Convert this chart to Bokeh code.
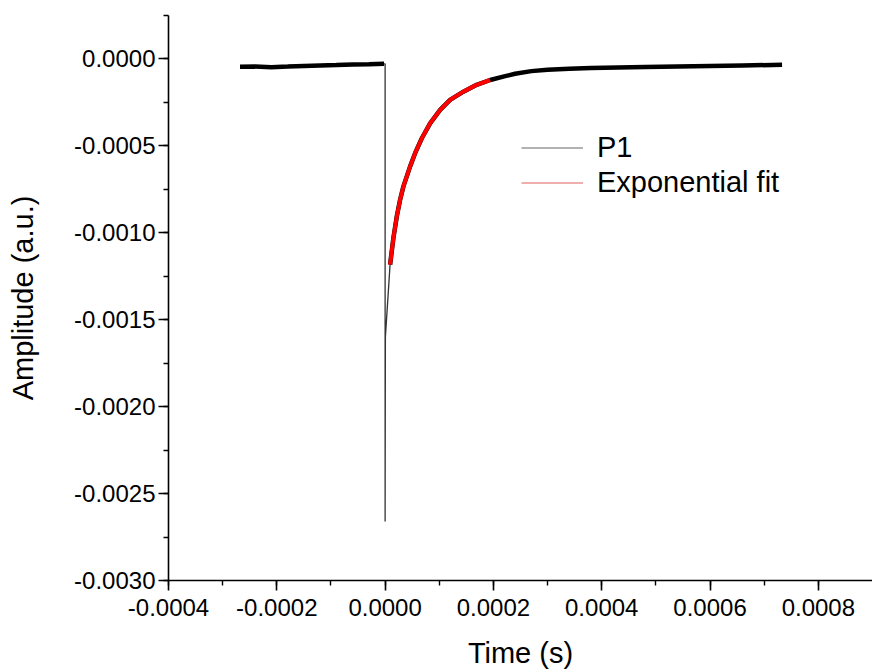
from bokeh.plotting import figure
from bokeh.models import (Range1d, SingleIntervalTicker, NumeralTickFormatter,
                          Legend, LegendItem)
from bokeh.embed import file_html
from bokeh.resources import INLINE

# ---- data ----
pre_t = [-0.000268, -0.00024, -0.00021, -0.00018, -0.00015, -0.00012,
         -0.00009, -0.00006, -0.00003, -0.000002]
pre_amp = [-0.000045, -0.000044, -0.000047, -0.000044, -0.000040, -0.000037,
           -0.000035, -0.000032, -0.000030, -0.000028]

spike_t = [-0.000002, 0.0, 0.0, 0.0000005, 0.0000092]
spike_amp = [-0.000028, -0.000028, -0.00266, -0.00160, -0.00118]

rec_t = [0.0000092, 0.0000153, 0.0000216, 0.0000277, 0.0000338, 0.0000462,
         0.0000554, 0.0000678, 0.0000831, 0.0001016, 0.00012, 0.0001446,
         0.000169, 0.000194, 0.00022, 0.00024, 0.00027, 0.0003, 0.00034,
         0.00038, 0.00043, 0.00048, 0.00054, 0.0006, 0.00066, 0.000733]
rec_amp = [-0.001183, -0.00103, -0.000905, -0.00081, -0.000733, -0.000618,
           -0.000542, -0.000456, -0.00037, -0.000293, -0.000235, -0.000188,
           -0.000149, -0.000121, -0.0001, -0.000085, -0.00007, -0.000062,
           -0.000056, -0.000052, -0.000049, -0.000046, -0.000043, -0.00004,
           -0.000037, -0.000034]

fit_t = [0.0000092, 0.0000153, 0.0000216, 0.0000277, 0.0000338, 0.0000462,
         0.0000554, 0.0000678, 0.0000831, 0.0001016, 0.00012, 0.0001446,
         0.000169, 0.000194]
fit_amp = [-0.001183, -0.00103, -0.000905, -0.00081, -0.000733, -0.000618,
           -0.000542, -0.000456, -0.00037, -0.000293, -0.000235, -0.000188,
           -0.000149, -0.000121]

series_names = ["P1", "Exponential fit"]
x_label = "Time (s)"
y_label = "Amplitude (a.u.)"

FONT = "Liberation Sans"

p = figure(width=872, height=671, output_backend="svg", toolbar_location=None,
           x_range=Range1d(-0.0004, 0.0009), y_range=Range1d(-0.003, 0.00025),
           min_border_left=168, min_border_right=0, min_border_top=15,
           min_border_bottom=91)
p.outline_line_color = None
p.xgrid.visible = False
p.ygrid.visible = False
p.background_fill_color = "white"
p.border_fill_color = "white"

# thin legend proxies, drawn first so the visible trace covers them
r_p1 = p.line(pre_t, pre_amp, line_color="#666666", line_width=1.2)
r_fit = p.line(fit_t, fit_amp, line_color="#e06060", line_width=1.2)

# data
p.line(pre_t, pre_amp, line_color="black", line_width=4.5)
p.line(spike_t, spike_amp, line_color="#333333", line_width=1.3)
p.line(rec_t, rec_amp, line_color="black", line_width=4.5)
p.line(fit_t, fit_amp, line_color="#ff0000", line_width=4)

legend = Legend(items=[LegendItem(label=series_names[0], renderers=[r_p1]),
                       LegendItem(label=series_names[1], renderers=[r_fit])],
                location=(353, 380), border_line_color=None,
                background_fill_alpha=0, padding=0, margin=0, spacing=0,
                glyph_width=62, glyph_height=35, label_height=35,
                label_standoff=14, label_text_font=FONT,
                label_text_font_size="29px", label_text_color="black")
p.add_layout(legend, "center")

for ax in (p.xaxis[0], p.yaxis[0]):
    ax.axis_line_color = "black"
    ax.axis_line_width = 1.6
    ax.major_tick_line_color = "black"
    ax.major_tick_line_width = 1.6
    ax.minor_tick_line_color = "black"
    ax.minor_tick_line_width = 1.4
    ax.major_tick_in = 0
    ax.major_tick_out = 10
    ax.minor_tick_in = 0
    ax.minor_tick_out = 5
    ax.major_label_text_font = FONT
    ax.major_label_text_font_size = "24px"
    ax.major_label_text_color = "black"
    ax.axis_label_text_font = FONT
    ax.axis_label_text_font_size = "29px"
    ax.axis_label_text_font_style = "normal"
    ax.axis_label_text_color = "black"
    ax.formatter = NumeralTickFormatter(format="0.0000")

p.xaxis[0].ticker = SingleIntervalTicker(interval=0.0002, num_minor_ticks=2)
p.yaxis[0].ticker = SingleIntervalTicker(interval=0.0005, num_minor_ticks=2)
p.xaxis[0].axis_label = x_label
p.yaxis[0].axis_label = y_label
p.xaxis[0].major_label_standoff = 8
p.yaxis[0].major_label_standoff = 3
p.xaxis[0].axis_label_standoff = 18
p.yaxis[0].axis_label_standoff = 32

open("out.html", "w").write(file_html(p, INLINE))
